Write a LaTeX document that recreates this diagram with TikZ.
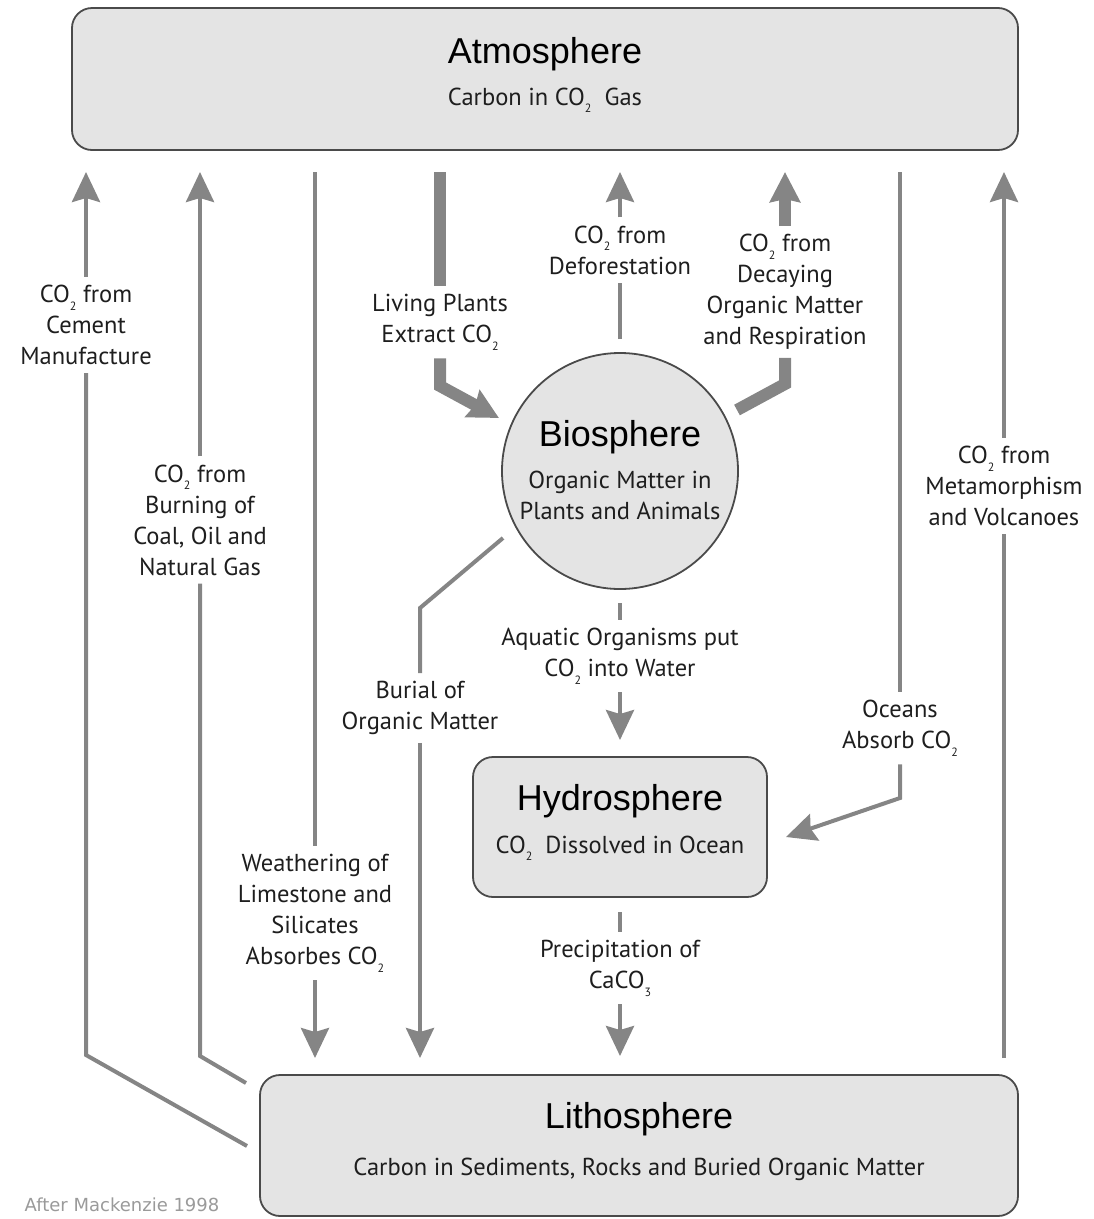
\documentclass[tikz,border=0pt]{standalone}
\usepackage{fontspec}
\setmainfont{PT Sans}
\newfontfamily\titlefont{Liberation Sans}
\newfontfamily\notefont{DejaVu Sans}
\usetikzlibrary{arrows.meta}
\definecolor{arrgray}{HTML}{858585}
\definecolor{boxfill}{HTML}{E4E4E4}
\definecolor{boxline}{HTML}{4A4A4A}
\definecolor{txt}{HTML}{1E1E1E}
\definecolor{notegray}{HTML}{9A9A9A}
\newcommand\lowsub[1]{\raisebox{-0.32em}{\fontsize{12}{12}\selectfont #1}}
\newcommand\cotwo{CO\lowsub{2}}
\tikzset{
  sphere/.style={draw=boxline, line width=1.8pt, fill=boxfill, rounded corners=20pt, inner sep=0pt},
  ball/.style={draw=boxline, line width=1.8pt, fill=boxfill, circle, inner sep=0pt, minimum size=236pt},
  titletxt/.style={font=\titlefont\fontsize{36}{40}\selectfont, text=black, inner sep=0pt, anchor=base},
  subtxt/.style={font=\fontsize{24.5}{31}\selectfont, text=txt, inner sep=0pt, align=center},
  lbl/.style={font=\fontsize{24.5}{31}\selectfont, text=txt, align=center, inner xsep=2pt, inner ysep=8pt},
  flow/.style={draw=arrgray, line width=4pt, line join=miter},
  flowtip/.style={flow, -{Stealth[length=30pt,width=28pt,inset=4pt]}},
  bigflow/.style={draw=arrgray, line width=12pt, line join=miter},
  bigtip/.style={bigflow, -{Stealth[length=30pt,width=30pt,inset=3pt]}},
}
\begin{document}
\begin{tikzpicture}[x=1pt,y=-1pt]
\useasboundingbox (0,0) rectangle (1094,1219);

% reservoirs
\node[sphere, minimum width=946pt, minimum height=142pt] (atm) at (545,79) {};
\node[titletxt] (atmT) at (545,63) {Atmosphere};
\node[subtxt, anchor=base] (atmS) at (545,105) {Carbon in \cotwo\ \ Gas};

\node[ball] (bio) at (620,471) {};
\node[titletxt] (bioT) at (620,446) {Biosphere};
\node[subtxt] (bioS) at (620,495) {Organic Matter in\\Plants and Animals};

\node[sphere, minimum width=294pt, minimum height=140pt] (hyd) at (620,827) {};
\node[titletxt] (hydT) at (620,810) {Hydrosphere};
\node[subtxt, anchor=base] (hydS) at (620,853) {\cotwo\ \ Dissolved in Ocean};

\node[sphere, minimum width=758pt, minimum height=141pt] (lit) at (639,1145.5) {};
\node[titletxt] (litT) at (639,1128) {Lithosphere};
\node[subtxt, anchor=base] (litS) at (639,1175) {Carbon in Sediments, Rocks and Buried Organic Matter};

\node[font=\notefont\fontsize{18}{20}\selectfont, text=notegray, inner sep=0pt] (note) at (122,1205) {After Mackenzie 1998};

% labels
\node[lbl] (cem) at (86,325) {\cotwo\ from\\Cement\\Manufacture};
\node[lbl] (burn) at (200,520) {\cotwo\ from\\Burning of\\Coal, Oil and\\Natural Gas};
\node[lbl] (weath) at (315,913) {Weathering of\\Limestone and\\Silicates\\Absorbes \cotwo};
\node[lbl] (living) at (440,322) {Living Plants\\Extract \cotwo};
\node[lbl] (defor) at (620,250) {\cotwo\ from\\Deforestation};
\node[lbl] (decay) at (785,292) {\cotwo\ from\\Decaying\\Organic Matter\\and Respiration};
\node[lbl] (oceans) at (900,728) {Oceans\\Absorb \cotwo};
\node[lbl] (meta) at (1004,486) {\cotwo\ from\\Metamorphism\\and Volcanoes};
\node[lbl] (burial) at (420,708) {Burial of\\Organic Matter};
\node[lbl] (aquatic) at (620,656) {Aquatic Organisms put\\\cotwo\ into Water};
\node[lbl] (precip) at (620,968) {Precipitation of\\CaCO\lowsub{3}};

% coordinates
\coordinate (cemT) at (86,172);
\coordinate (cemK) at (86,1055);
\coordinate (cemE) at (247,1146);
\coordinate (burnT) at (200,172);
\coordinate (burnK) at (200,1056);
\coordinate (burnE) at (246,1083);
\coordinate (weathS) at (315,172);
\coordinate (weathE) at (315,1058);
\coordinate (livS) at (440,172);
\coordinate (livK) at (440,386);
\coordinate (livE) at (499,418);
\coordinate (deforS) at (620,339);
\coordinate (deforT) at (620,172);
\coordinate (decS) at (737,410);
\coordinate (decK) at (785,384);
\coordinate (decT) at (785,172);
\coordinate (ocS) at (900,172);
\coordinate (ocK) at (900,798);
\coordinate (ocE) at (786,837);
\coordinate (metaS) at (1004,1058);
\coordinate (metaT) at (1004,172);
\coordinate (burS) at (503,538);
\coordinate (burK) at (420,608);
\coordinate (burE) at (420,1058);
\coordinate (aqS) at (620,603);
\coordinate (aqE) at (620,740);
\coordinate (prS) at (620,912);
\coordinate (prE) at (620,1056);

% connectors
\draw[flowtip] (cem.north) -- (cemT);
\draw[flow] (cem.south) -- (cemK) -- (cemE);
\draw[flowtip] (burn.north) -- (burnT);
\draw[flow] (burn.south) -- (burnK) -- (burnE);
\draw[flow] (weathS) -- (weath.north);
\draw[flowtip] (weath.south) -- (weathE);
\draw[bigflow] (livS) -- (living.north);
\draw[bigtip] (living.south) -- (livK) -- (livE);
\draw[flow] (deforS) -- (defor.south);
\draw[flowtip] (defor.north) -- (deforT);
\draw[bigflow] (decS) -- (decK) -- (decay.south);
\draw[bigtip] (decay.north) -- (decT);
\draw[flow] (ocS) -- (oceans.north);
\draw[flowtip] (oceans.south) -- (ocK) -- (ocE);
\draw[flow] (metaS) -- (meta.south);
\draw[flowtip] (meta.north) -- (metaT);
\draw[flow] (burS) -- (burK) -- (burial.north);
\draw[flowtip] (burial.south) -- (burE);
\draw[flow] (aqS) -- (aquatic.north);
\draw[flowtip] (aquatic.south) -- (aqE);
\draw[flow] (prS) -- (precip.north);
\draw[flowtip] (precip.south) -- (prE);
\end{tikzpicture}
\end{document}
